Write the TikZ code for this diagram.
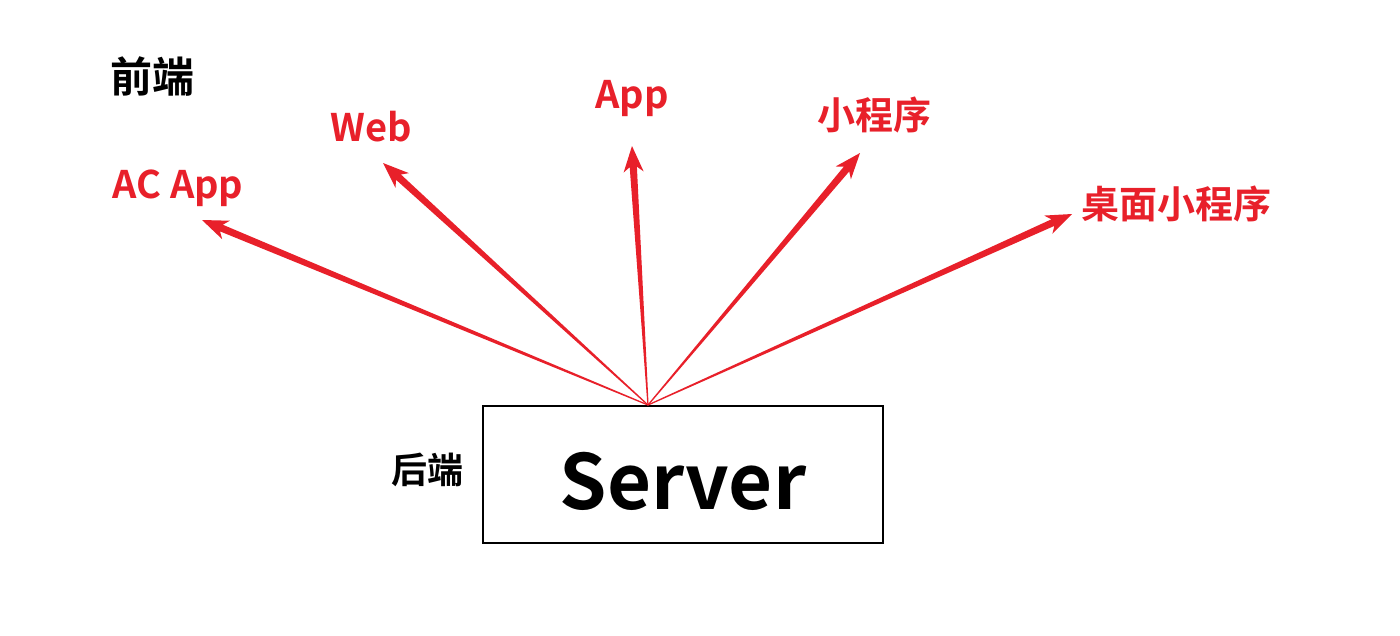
\documentclass[tikz,border=0pt]{standalone}
\usepackage{fontspec}
\setmainfont{Noto Sans CJK SC}[BoldFont={* Bold}]
\usetikzlibrary{calc}
\definecolor{arrowred}{RGB}{232,32,42}
\tikzset{
  lbl/.style={text=arrowred, font=\bfseries\fontsize{38}{40}\selectfont, inner sep=0pt},
  side/.style={text=black, font=\bfseries\fontsize{#1}{#1}\selectfont, inner sep=0pt},
  serverbox/.style={draw=black, line width=2pt, minimum width=400pt, minimum height=137pt, inner sep=0pt, font=\bfseries\fontsize{76}{76}\selectfont},
}
\newcommand{\taperarrow}[2]{%
  \path coordinate (h) at ($(#2)!21pt!(#1)$)
        coordinate (hb) at ($(#2)!26pt!(#1)$);
  \fill[arrowred]
    ($(#1)!0.6pt!90:(#2)$) -- ($(h)!3.6pt!90:(#2)$) -- ($(hb)!10pt!90:(#2)$) -- (#2)
    -- ($(hb)!10pt!-90:(#2)$) -- ($(h)!3.6pt!-90:(#2)$) -- ($(#1)!0.6pt!-90:(#2)$) -- cycle;
}
\begin{document}
\begin{tikzpicture}[x=1pt,y=-1pt]
\useasboundingbox (0,0) rectangle (1400,635);
\fill[white] (0,0) rectangle (1400,635);
\node[serverbox] (server) at (683,474.5) {};
\node[font=\bfseries\fontsize{76}{76}\selectfont, inner sep=0pt] (servertext) at (683,481) {Server};
\node[side=36] (backend) at (427,470) {后端};
\node[side=42] (frontend) at (152,77) {前端};
\node[lbl] (acapp) at (178,188) {AC App};
\node[lbl] (web) at (371,127) {Web};
\node[lbl] (app) at (632,99) {App};
\node[lbl] (mini) at (874,115) {小程序};
\node[lbl] (desk) at (1176,204) {桌面小程序};
\coordinate (o) at (648,405);
\coordinate (t1) at (202,220);
\coordinate (t2) at (383,163);
\coordinate (t3) at (632,146);
\coordinate (t4) at (860,153);
\coordinate (t5) at (1072,214);
\taperarrow{o}{t1}
\taperarrow{o}{t2}
\taperarrow{o}{t3}
\taperarrow{o}{t4}
\taperarrow{o}{t5}
\end{tikzpicture}
\end{document}
